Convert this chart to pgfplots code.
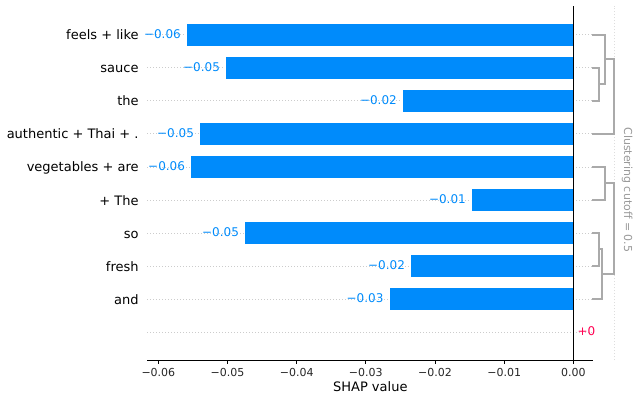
\documentclass[border=0pt]{standalone}
\usepackage{fontspec}
\setmainfont{DejaVu Sans}
\usepackage{pgfplots}
\pgfplotsset{compat=1.18}
\definecolor{shapblue}{HTML}{008BFB}
\definecolor{shappink}{HTML}{FF0051}
\definecolor{dendro}{HTML}{AAAAAA}
\definecolor{gridc}{HTML}{CCCCCC}
\definecolor{cutc}{HTML}{DDDDDD}
\definecolor{cuttext}{HTML}{999999}
\begin{document}
\begin{tikzpicture}
\useasboundingbox (0,0) rectangle (637pt,401pt);
\begin{axis}[
  at={(147.3pt,40.7pt)}, anchor=south west,
  scale only axis, width=446pt, height=354.3pt,
  xmin=-0.0616, xmax=0.00289, ymin=-0.857, ymax=9.866,
  axis x line*=bottom, axis y line*=left,
  y axis line style={draw=none},
  x axis line style={-, black, line width=0.8pt},
  scaled x ticks=false,
  xtick={-0.06,-0.05,-0.04,-0.03,-0.02,-0.01,0},
  xticklabels={−0.06,−0.05,−0.04,−0.03,−0.02,−0.01,0.00},
  xticklabel style={font=\fontsize{11}{13}\selectfont, text=black!85, inner sep=0pt, anchor=north, yshift=-4.5pt},
  xtick style={black, line width=0.8pt},
  tick align=outside, major tick length=3.5pt,
  ytick={0,1,2,3,4,5,6,7,8,9},
  yticklabels={,and,fresh,so,+ The,vegetables + are,authentic + Thai + .,the,sauce,feels + like},
  yticklabel style={font=\fontsize{13}{15}\selectfont, inner sep=0pt, anchor=base east, yshift=-5.2pt, xshift=-5pt},
  ytick style={draw=none},
  ymajorgrids,
  major grid style={draw=gridc, line width=0.5pt, dash pattern=on 0.5pt off 2.5pt},
  xlabel={SHAP value},
  xlabel style={font=\fontsize{13}{15}\selectfont, at={(axis description cs:0.5,0)}, anchor=base, inner sep=0pt, yshift=-31.7pt},
  clip=false,
]
% bars
\addplot[xbar, bar shift=0pt, bar width=23pt, fill=shapblue, draw=white, line width=0.8pt,
  point meta=explicit symbolic, nodes near coords,
  every node near coord/.append style={anchor=base east, inner sep=0pt, xshift=-5.5pt, yshift=-3.4pt, text=shapblue, font=\fontsize{12}{14}\selectfont}]
  coordinates {
  (-0.0559,9) [−0.06]
  (-0.05025,8) [−0.05]
  (-0.02467,7) [−0.02]
  (-0.0540,6) [−0.05]
  (-0.0553,5) [−0.06]
  (-0.01469,4) [−0.01]
  (-0.0475,3) [−0.05]
  (-0.0235,2) [−0.02]
  (-0.0266,1) [−0.03]
  };
% zero label
\addplot[draw=none, mark=none, point meta=explicit symbolic, nodes near coords,
  every node near coord/.append style={anchor=base west, inner sep=0pt, xshift=4pt, yshift=-4pt, text=shappink, font=\fontsize{12}{14}\selectfont}]
  coordinates {(0,0) [+0]};
% zero line
\addplot[black, line width=1pt, mark=none] coordinates {(0,-0.857) (0,9.866)};
% cutoff line
\addplot[cutc, line width=1.5pt, dash pattern=on 1.5pt off 1.5pt, mark=none] coordinates {(0.00596,-0.857) (0.00596,9.866)};
% dendrogram
\addplot[dendro, line width=2pt, mark=none] coordinates {(0.00266,8) (0.00376,8) (0.00376,7) (0.00266,7)};
\addplot[dendro, line width=2pt, mark=none] coordinates {(0.00266,9) (0.00458,9) (0.00458,7.5) (0.00376,7.5)};
\addplot[dendro, line width=2pt, mark=none] coordinates {(0.00458,8.25) (0.00588,8.25) (0.00588,6) (0.00266,6)};
\addplot[dendro, line width=2pt, mark=none] coordinates {(0.00266,5) (0.00458,5) (0.00458,4) (0.00266,4)};
\addplot[dendro, line width=2pt, mark=none] coordinates {(0.00458,4.5) (0.00588,4.5) (0.00588,1.75) (0.00411,1.75)};
\addplot[dendro, line width=2pt, mark=none] coordinates {(0.00266,3) (0.00376,3) (0.00376,2) (0.00266,2)};
\addplot[dendro, line width=2pt, mark=none] coordinates {(0.00376,2.5) (0.00411,2.5) (0.00411,1) (0.00266,1)};
\node[rotate=-90, anchor=south, inner sep=0pt, text=cuttext, font=\fontsize{11}{13}\selectfont] at (axis cs:0.0070,4.30) {Clustering cutoff = 0.5};
\end{axis}
\end{tikzpicture}
\end{document}
